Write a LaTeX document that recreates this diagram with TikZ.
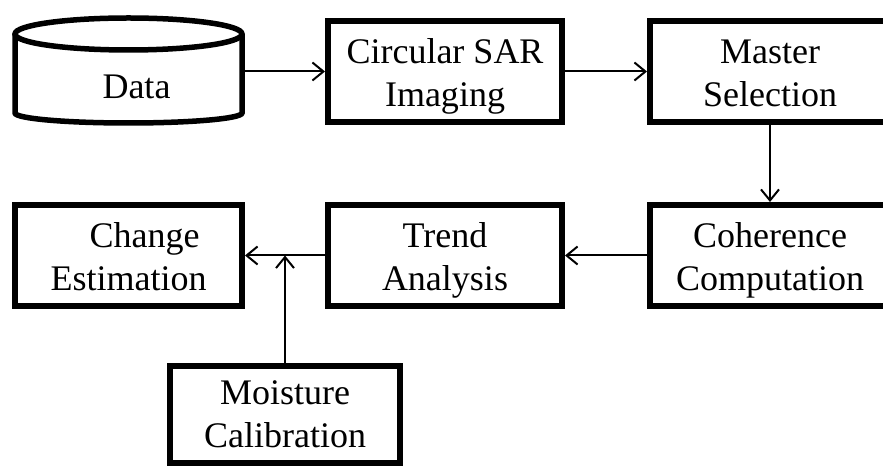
\documentclass[tikz,border=0pt]{standalone}
\usepackage{fontspec}
\setmainfont{Liberation Serif}
\usetikzlibrary{arrows.meta,positioning}
\tikzset{
  basebox/.style={draw=black,line width=6pt,align=center,inner sep=0pt,font=\fontsize{36}{43}\selectfont},
  lowbox/.style={basebox,text height=79pt,text depth=8pt},
  arrow/.style={-{Straight Barb[length=11pt,width=18pt]},line width=2pt},
  drum/.style={line width=5.5pt}
}

\begin{document}
\begin{tikzpicture}[
        x=1pt,y=1pt,
        blk/.style={lowbox,minimum width=234pt,minimum height=101pt},
        wideblk/.style={blk,minimum width=240pt}
      ]
        \useasboundingbox (0,0) rectangle (883,468);
        \clip (0,0) rectangle (883,468);

        \node[blk] (sar) at (445,396.5) {Circular SAR\\Imaging};
        \node[font=\fontsize{36}{43}\selectfont,minimum width=227pt,minimum height=70pt,inner sep=0pt,outer sep=0pt] (data) at (128.5,381) {\hspace*{16pt}Data};
        \draw[drum] ([yshift=18pt]data.north) ellipse[x radius=113.5pt,y radius=16pt];
        \draw[drum] ([yshift=18pt]data.north west) -- ([yshift=9pt]data.south west)
          arc[start angle=180,end angle=360,x radius=113.5pt,y radius=10pt] -- ([yshift=18pt]data.north east);
        \node[wideblk,right=82pt of sar] (mst) {Master\\Selection};

        \node[wideblk,below=77pt of mst] (coh) {Coherence\\Computation};
        \node[blk,left=82pt of coh] (trd) {Trend\\Analysis};
        \node[blk,left=80pt of trd,minimum width=227pt] (chg) {\hspace*{32pt}Change\\Estimation};

        \node[basebox,minimum width=230pt,minimum height=97pt] (mst2) at (285,53.5) {Moisture\\Calibration};
        \coordinate (jn) at (mst2.north |- trd.west);

        \draw[arrow] (data.east |- sar.west) -- (sar.west);
        \draw[arrow] (sar) -- (mst);
        \draw[arrow] (mst) -- (coh);
        \draw[arrow] (coh) -- (trd);
        \draw[arrow] (trd) -- (chg);
        \draw[arrow] (mst2.north) -- (jn);
      \end{tikzpicture}
\end{document}
